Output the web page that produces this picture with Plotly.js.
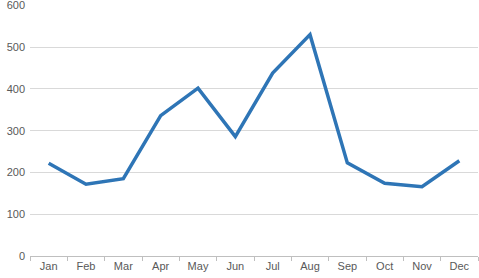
<!DOCTYPE html>
<html><head><meta charset="utf-8">
<script src="https://cdn.plot.ly/plotly-3.0.1.min.js"></script>
<style>html,body{margin:0;padding:0;background:#fff}#c{width:479px;height:278px}</style>
</head><body><div id="c"></div>
<script>
const months = ["Jan","Feb","Mar","Apr","May","Jun","Jul","Aug","Sep","Oct","Nov","Dec"];
const values = [222,172,185,336,402,286,438,530,223,174,166,228];
const yTicks = [0,100,200,300,400,500,600];

Plotly.newPlot('c', [{
  x: months, y: values, type: 'scatter', mode: 'lines',
  line: {color: '#2E75B6', width: 3.5}, hoverinfo: 'skip'
}], {
  width: 479, height: 278,
  margin: {l: 30, r: 1, t: 5, b: 22, pad: 0},
  paper_bgcolor: '#fff', plot_bgcolor: '#fff',
  showlegend: false,
  font: {family: 'Liberation Sans, Arial, sans-serif', size: 11, color: '#595959'},
  xaxis: {
    type: 'category', range: [-0.5, 11.5],
    showgrid: false, zeroline: false,
    showline: true, linecolor: '#bfbfbf', linewidth: 1,
    ticks: 'outside', tickson: 'boundaries', ticklen: 4, tickcolor: '#bfbfbf',
    tickfont: {size: 11, color: '#595959'}
  },
  yaxis: {
    range: [0, 601], tickvals: yTicks, ticktext: yTicks.map(String),
    showgrid: true, gridcolor: '#d9d9d9', gridwidth: 1,
    zeroline: false, showline: false, ticks: '',
    ticklabelstandoff: 4, ticklabeloverflow: 'allow',
    tickfont: {size: 11, color: '#595959'}
  }
}, {staticPlot: true, displayModeBar: false});
</script></body></html>
